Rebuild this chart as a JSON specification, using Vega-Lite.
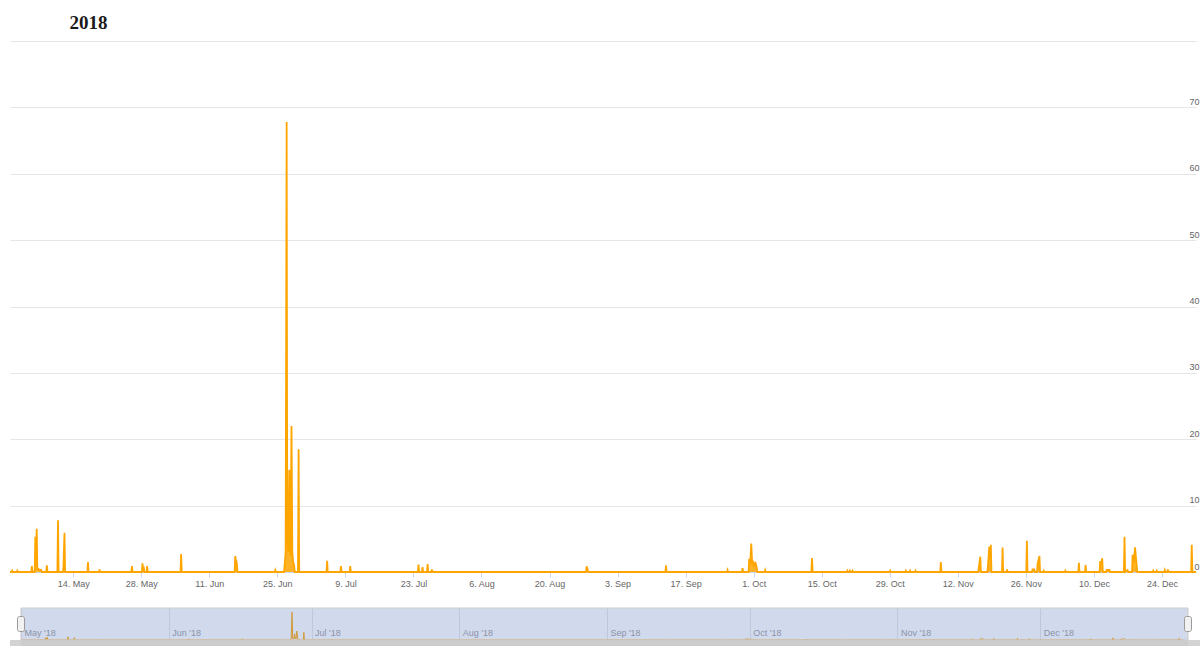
{
  "$schema": "https://vega.github.io/schema/vega-lite/v6.json",
  "background": "white",
  "padding": {"left": 6, "top": 14, "right": 0, "bottom": 0},
  "title": {"text": "2018", "anchor": "start", "font": "Liberation Serif", "fontSize": 19, "fontWeight": "bold", "color": "#1a1a1a", "dx": 63, "offset": 8},
  "datasets": {
    "range": [{"start": "2018-05-01T00:00", "end": "2019-01-01T00:00"}],
    "series": [
      {"t": "2018-05-01T00:00", "v": 0},
      {"t": "2018-05-01T08:00", "v": 0}, {"t": "2018-05-01T11:00", "v": 0.2}, {"t": "2018-05-01T14:00", "v": 0},
      {"t": "2018-05-02T09:00", "v": 0}, {"t": "2018-05-02T12:00", "v": 0.2}, {"t": "2018-05-02T15:00", "v": 0},
      {"t": "2018-05-05T09:00", "v": 0}, {"t": "2018-05-05T12:00", "v": 0.9}, {"t": "2018-05-05T15:00", "v": 0},
      {"t": "2018-05-06T02:00", "v": 0}, {"t": "2018-05-06T05:00", "v": 5.3}, {"t": "2018-05-06T08:00", "v": 2.0}, {"t": "2018-05-06T12:00", "v": 6.5}, {"t": "2018-05-06T15:00", "v": 0.5}, {"t": "2018-05-07T00:00", "v": 0.4}, {"t": "2018-05-07T10:00", "v": 0.3}, {"t": "2018-05-07T13:00", "v": 0},
      {"t": "2018-05-08T11:00", "v": 0}, {"t": "2018-05-08T14:00", "v": 1.0}, {"t": "2018-05-08T17:00", "v": 0},
      {"t": "2018-05-10T18:00", "v": 0}, {"t": "2018-05-10T21:00", "v": 7.8}, {"t": "2018-05-11T00:00", "v": 0},
      {"t": "2018-05-11T21:00", "v": 0}, {"t": "2018-05-12T00:00", "v": 0.7}, {"t": "2018-05-12T05:00", "v": 5.9}, {"t": "2018-05-12T08:00", "v": 0},
      {"t": "2018-05-16T22:00", "v": 0}, {"t": "2018-05-17T01:00", "v": 1.5}, {"t": "2018-05-17T04:00", "v": 0},
      {"t": "2018-05-19T07:00", "v": 0}, {"t": "2018-05-19T10:00", "v": 0.4}, {"t": "2018-05-19T13:00", "v": 0},
      {"t": "2018-05-25T23:00", "v": 0}, {"t": "2018-05-26T02:00", "v": 0.9}, {"t": "2018-05-26T05:00", "v": 0},
      {"t": "2018-05-28T03:00", "v": 0}, {"t": "2018-05-28T06:00", "v": 1.3}, {"t": "2018-05-28T09:00", "v": 0.5}, {"t": "2018-05-28T12:00", "v": 0.8}, {"t": "2018-05-28T15:00", "v": 0},
      {"t": "2018-05-29T02:00", "v": 0}, {"t": "2018-05-29T05:00", "v": 0.9}, {"t": "2018-05-29T08:00", "v": 0},
      {"t": "2018-06-05T02:00", "v": 0}, {"t": "2018-06-05T05:00", "v": 2.7}, {"t": "2018-06-05T08:00", "v": 0},
      {"t": "2018-06-16T05:00", "v": 0}, {"t": "2018-06-16T08:00", "v": 2.4}, {"t": "2018-06-16T12:00", "v": 1.8}, {"t": "2018-06-16T16:00", "v": 1.4}, {"t": "2018-06-16T19:00", "v": 0},
      {"t": "2018-06-24T11:00", "v": 0}, {"t": "2018-06-24T14:00", "v": 0.3}, {"t": "2018-06-24T17:00", "v": 0},
      {"t": "2018-06-26T09:00", "v": 0}, {"t": "2018-06-26T12:00", "v": 1.0}, {"t": "2018-06-26T17:00", "v": 3.0}, {"t": "2018-06-26T22:00", "v": 67.8}, {"t": "2018-06-27T01:00", "v": 4.0}, {"t": "2018-06-27T03:00", "v": 5.0}, {"t": "2018-06-27T06:00", "v": 3.0}, {"t": "2018-06-27T11:00", "v": 15.4}, {"t": "2018-06-27T14:00", "v": 4.0}, {"t": "2018-06-27T17:00", "v": 2.5}, {"t": "2018-06-27T22:00", "v": 22.0}, {"t": "2018-06-28T02:00", "v": 3.0}, {"t": "2018-06-28T06:00", "v": 1.5}, {"t": "2018-06-28T11:00", "v": 1.0}, {"t": "2018-06-28T14:00", "v": 0},
      {"t": "2018-06-29T06:00", "v": 0}, {"t": "2018-06-29T09:00", "v": 18.5}, {"t": "2018-06-29T12:00", "v": 0},
      {"t": "2018-07-05T03:00", "v": 0}, {"t": "2018-07-05T06:00", "v": 1.7}, {"t": "2018-07-05T09:00", "v": 0},
      {"t": "2018-07-07T23:00", "v": 0}, {"t": "2018-07-08T02:00", "v": 0.9}, {"t": "2018-07-08T05:00", "v": 0},
      {"t": "2018-07-09T21:00", "v": 0}, {"t": "2018-07-10T00:00", "v": 0.9}, {"t": "2018-07-10T03:00", "v": 0},
      {"t": "2018-07-23T22:00", "v": 0}, {"t": "2018-07-24T01:00", "v": 1.1}, {"t": "2018-07-24T04:00", "v": 0},
      {"t": "2018-07-24T18:00", "v": 0}, {"t": "2018-07-24T21:00", "v": 0.75}, {"t": "2018-07-25T00:00", "v": 0},
      {"t": "2018-07-25T19:00", "v": 0}, {"t": "2018-07-25T22:00", "v": 1.2}, {"t": "2018-07-26T01:00", "v": 0},
      {"t": "2018-07-26T16:00", "v": 0}, {"t": "2018-07-26T19:00", "v": 0.4}, {"t": "2018-07-26T22:00", "v": 0},
      {"t": "2018-08-27T12:00", "v": 0}, {"t": "2018-08-27T15:00", "v": 0.85}, {"t": "2018-08-27T20:00", "v": 0.4}, {"t": "2018-08-27T23:00", "v": 0},
      {"t": "2018-09-12T20:00", "v": 0}, {"t": "2018-09-12T23:00", "v": 1.0}, {"t": "2018-09-13T02:00", "v": 0},
      {"t": "2018-09-25T12:00", "v": 0}, {"t": "2018-09-25T15:00", "v": 0.3}, {"t": "2018-09-25T18:00", "v": 0},
      {"t": "2018-09-28T14:00", "v": 0}, {"t": "2018-09-28T17:00", "v": 0.6}, {"t": "2018-09-28T20:00", "v": 0},
      {"t": "2018-09-29T23:00", "v": 0}, {"t": "2018-09-30T02:00", "v": 2.0}, {"t": "2018-09-30T07:00", "v": 1.2}, {"t": "2018-09-30T12:00", "v": 4.3}, {"t": "2018-09-30T17:00", "v": 1.0}, {"t": "2018-09-30T22:00", "v": 1.4}, {"t": "2018-10-01T03:00", "v": 0.8}, {"t": "2018-10-01T08:00", "v": 1.5}, {"t": "2018-10-01T15:00", "v": 0.7}, {"t": "2018-10-01T18:00", "v": 0},
      {"t": "2018-10-03T06:00", "v": 0}, {"t": "2018-10-03T09:00", "v": 0.3}, {"t": "2018-10-03T12:00", "v": 0},
      {"t": "2018-10-12T21:00", "v": 0}, {"t": "2018-10-13T00:00", "v": 2.1}, {"t": "2018-10-13T03:00", "v": 0},
      {"t": "2018-10-20T04:00", "v": 0}, {"t": "2018-10-20T07:00", "v": 0.2}, {"t": "2018-10-20T10:00", "v": 0},
      {"t": "2018-10-20T16:00", "v": 0}, {"t": "2018-10-20T19:00", "v": 0.2}, {"t": "2018-10-20T22:00", "v": 0},
      {"t": "2018-10-21T05:00", "v": 0}, {"t": "2018-10-21T08:00", "v": 0.2}, {"t": "2018-10-21T11:00", "v": 0},
      {"t": "2018-10-28T23:00", "v": 0}, {"t": "2018-10-29T02:00", "v": 0.2}, {"t": "2018-10-29T05:00", "v": 0},
      {"t": "2018-11-01T04:00", "v": 0}, {"t": "2018-11-01T07:00", "v": 0.2}, {"t": "2018-11-01T10:00", "v": 0},
      {"t": "2018-11-02T01:00", "v": 0}, {"t": "2018-11-02T04:00", "v": 0.2}, {"t": "2018-11-02T07:00", "v": 0},
      {"t": "2018-11-03T04:00", "v": 0}, {"t": "2018-11-03T07:00", "v": 0.2}, {"t": "2018-11-03T10:00", "v": 0},
      {"t": "2018-11-08T09:00", "v": 0}, {"t": "2018-11-08T12:00", "v": 1.5}, {"t": "2018-11-08T15:00", "v": 0},
      {"t": "2018-11-16T04:00", "v": 0}, {"t": "2018-11-16T07:00", "v": 0.5}, {"t": "2018-11-16T15:00", "v": 2.3}, {"t": "2018-11-16T18:00", "v": 0},
      {"t": "2018-11-18T02:00", "v": 0}, {"t": "2018-11-18T05:00", "v": 1.0}, {"t": "2018-11-18T11:00", "v": 3.8}, {"t": "2018-11-18T15:00", "v": 2.0}, {"t": "2018-11-18T19:00", "v": 4.1}, {"t": "2018-11-18T22:00", "v": 0},
      {"t": "2018-11-21T02:00", "v": 0}, {"t": "2018-11-21T05:00", "v": 3.7}, {"t": "2018-11-21T08:00", "v": 0},
      {"t": "2018-11-22T00:00", "v": 0}, {"t": "2018-11-22T03:00", "v": 0.4}, {"t": "2018-11-22T06:00", "v": 0},
      {"t": "2018-11-26T02:00", "v": 0}, {"t": "2018-11-26T05:00", "v": 4.7}, {"t": "2018-11-26T08:00", "v": 0},
      {"t": "2018-11-27T06:00", "v": 0}, {"t": "2018-11-27T09:00", "v": 0.4}, {"t": "2018-11-27T17:00", "v": 0.4}, {"t": "2018-11-27T20:00", "v": 0},
      {"t": "2018-11-28T07:00", "v": 0}, {"t": "2018-11-28T10:00", "v": 1.3}, {"t": "2018-11-28T19:00", "v": 2.4}, {"t": "2018-11-28T22:00", "v": 0},
      {"t": "2018-11-29T13:00", "v": 0}, {"t": "2018-11-29T16:00", "v": 0.2}, {"t": "2018-11-29T19:00", "v": 0},
      {"t": "2018-12-04T00:00", "v": 0}, {"t": "2018-12-04T03:00", "v": 0.2}, {"t": "2018-12-04T06:00", "v": 0},
      {"t": "2018-12-06T19:00", "v": 0}, {"t": "2018-12-06T22:00", "v": 1.4}, {"t": "2018-12-07T01:00", "v": 0},
      {"t": "2018-12-08T04:00", "v": 0}, {"t": "2018-12-08T07:00", "v": 1.05}, {"t": "2018-12-08T10:00", "v": 0},
      {"t": "2018-12-11T04:00", "v": 0}, {"t": "2018-12-11T07:00", "v": 1.66}, {"t": "2018-12-11T12:00", "v": 1.2}, {"t": "2018-12-11T17:00", "v": 2.07}, {"t": "2018-12-11T20:00", "v": 0},
      {"t": "2018-12-12T12:00", "v": 0}, {"t": "2018-12-12T15:00", "v": 0.3}, {"t": "2018-12-13T05:00", "v": 0.3}, {"t": "2018-12-13T08:00", "v": 0},
      {"t": "2018-12-16T04:00", "v": 0}, {"t": "2018-12-16T07:00", "v": 5.3}, {"t": "2018-12-16T10:00", "v": 0}, {"t": "2018-12-16T22:00", "v": 0.3}, {"t": "2018-12-17T01:00", "v": 0},
      {"t": "2018-12-17T20:00", "v": 0}, {"t": "2018-12-17T23:00", "v": 2.6}, {"t": "2018-12-18T05:00", "v": 1.5}, {"t": "2018-12-18T11:00", "v": 3.7}, {"t": "2018-12-18T19:00", "v": 1.0}, {"t": "2018-12-18T22:00", "v": 0},
      {"t": "2018-12-22T02:00", "v": 0}, {"t": "2018-12-22T05:00", "v": 0.2}, {"t": "2018-12-22T08:00", "v": 0},
      {"t": "2018-12-22T19:00", "v": 0}, {"t": "2018-12-22T22:00", "v": 0.2}, {"t": "2018-12-23T01:00", "v": 0},
      {"t": "2018-12-24T11:00", "v": 0}, {"t": "2018-12-24T14:00", "v": 0.3}, {"t": "2018-12-24T17:00", "v": 0},
      {"t": "2018-12-25T02:00", "v": 0}, {"t": "2018-12-25T05:00", "v": 0.4}, {"t": "2018-12-25T08:00", "v": 0},
      {"t": "2018-12-30T00:00", "v": 0}, {"t": "2018-12-30T03:00", "v": 4.1}, {"t": "2018-12-30T06:00", "v": 0},
      {"t": "2018-12-31T00:00", "v": 0}
    ]
  },
  "bounds": "flush",
  "spacing": 36,
  "vconcat": [
    {
      "width": 1186,
      "height": 531,
      "data": {"name": "series"},
      "mark": {"type": "area", "color": "#ffa500", "fillOpacity": 0.85, "line": {"color": "#ffa500", "strokeWidth": 1.8}},
      "encoding": {
        "x": {
          "field": "t", "type": "temporal",
          "scale": {"domain": [{"year": 2018, "month": 5, "date": 1}, {"year": 2018, "month": 12, "date": 31}], "nice": false},
          "axis": {
            "title": null, "grid": false,
            "values": [
              {"year": 2018, "month": 5, "date": 14}, {"year": 2018, "month": 5, "date": 28},
              {"year": 2018, "month": 6, "date": 11}, {"year": 2018, "month": 6, "date": 25},
              {"year": 2018, "month": 7, "date": 9}, {"year": 2018, "month": 7, "date": 23},
              {"year": 2018, "month": 8, "date": 6}, {"year": 2018, "month": 8, "date": 20},
              {"year": 2018, "month": 9, "date": 3}, {"year": 2018, "month": 9, "date": 17},
              {"year": 2018, "month": 10, "date": 1}, {"year": 2018, "month": 10, "date": 15},
              {"year": 2018, "month": 10, "date": 29}, {"year": 2018, "month": 11, "date": 12},
              {"year": 2018, "month": 11, "date": 26}, {"year": 2018, "month": 12, "date": 10},
              {"year": 2018, "month": 12, "date": 24}
            ],
            "format": "%-d. %b",
            "labelFont": "Liberation Sans", "labelFontSize": 9, "labelColor": "#666666",
            "tickColor": "#ccd6eb", "tickSize": 5, "domainColor": "#ccd6eb", "labelPadding": 2
          }
        },
        "y": {
          "field": "v", "type": "quantitative",
          "scale": {"domain": [0, 80], "nice": false},
          "axis": {
            "orient": "right", "title": null,
            "values": [0, 10, 20, 30, 40, 50, 60, 70, 80],
            "labelExpr": "datum.value == 80 ? '' : datum.label",
            "grid": true, "gridColor": "#e6e6e6", "ticks": false, "domain": false,
            "labelAlign": "right", "labelBaseline": "bottom", "labelPadding": 3, "labelOffset": -1,
            "labelFont": "Liberation Sans", "labelFontSize": 9, "labelColor": "#666666"
          }
        }
      }
    },
    {
      "bounds": "flush",
      "spacing": 0,
      "vconcat": [
        {
          "width": 1190,
          "height": 32,
          "layer": [
            {
              "data": {"name": "series"},
              "mark": {"type": "area", "color": "#ffa500", "fillOpacity": 0.35, "line": {"color": "#ffa500", "strokeWidth": 1}},
              "encoding": {
                "x": {
                  "field": "t", "type": "temporal",
                  "scale": {"domain": [{"year": 2018, "month": 4, "date": 28, "hours": 16, "minutes": 35}, {"year": 2019, "month": 1, "date": 3, "hours": 12, "minutes": 30}], "nice": false},
                  "axis": {
                    "title": null, "grid": true, "gridColor": "#e6e6e6", "ticks": false, "domain": false,
                    "values": [
                      {"year": 2018, "month": 5, "date": 1}, {"year": 2018, "month": 6, "date": 1},
                      {"year": 2018, "month": 7, "date": 1}, {"year": 2018, "month": 8, "date": 1},
                      {"year": 2018, "month": 9, "date": 1}, {"year": 2018, "month": 10, "date": 1},
                      {"year": 2018, "month": 11, "date": 1}, {"year": 2018, "month": 12, "date": 1}
                    ],
                    "format": "%b '%y",
                    "labelAlign": "left", "labelBaseline": "alphabetic", "labelPadding": -5, "labelOffset": 3,
                    "labelFont": "Liberation Sans", "labelFontSize": 9, "labelColor": "#999999"
                  }
                },
                "y": {"field": "v", "type": "quantitative", "scale": {"domain": [0, 78], "nice": false}, "axis": null}
              }
            },
            {
              "data": {"name": "range"},
              "mark": {"type": "rect", "color": "#6685c2", "fillOpacity": 0.3, "stroke": "#cccccc", "strokeWidth": 1},
              "encoding": {
                "x": {"field": "start", "type": "temporal"},
                "x2": {"field": "end"}
              }
            },
            {
              "data": {"name": "range"},
              "mark": {"type": "tick", "orient": "vertical", "size": 15, "thickness": 7, "color": "#f2f2f2", "opacity": 1, "stroke": "#999999", "strokeWidth": 1, "cornerRadius": 2},
              "encoding": {"x": {"field": "start", "type": "temporal"}}
            },
            {
              "data": {"name": "range"},
              "mark": {"type": "tick", "orient": "vertical", "size": 15, "thickness": 7, "color": "#f2f2f2", "opacity": 1, "stroke": "#999999", "strokeWidth": 1, "cornerRadius": 2},
              "encoding": {"x": {"field": "end", "type": "temporal"}}
            }
          ]
        },
        {
          "width": 1190,
          "height": 6,
          "view": {"fill": "#d3d3d3", "stroke": null},
          "data": {"name": "range"},
          "mark": {"type": "rect", "color": "#cccccc"},
          "encoding": {
            "x": {
              "field": "start", "type": "temporal",
              "scale": {"domain": [{"year": 2018, "month": 4, "date": 28, "hours": 16, "minutes": 35}, {"year": 2019, "month": 1, "date": 3, "hours": 12, "minutes": 30}], "nice": false},
              "axis": null
            },
            "x2": {"field": "end"}
          }
        }
      ]
    }
  ],
  "config": {
    "view": {"stroke": null}
  }
}
